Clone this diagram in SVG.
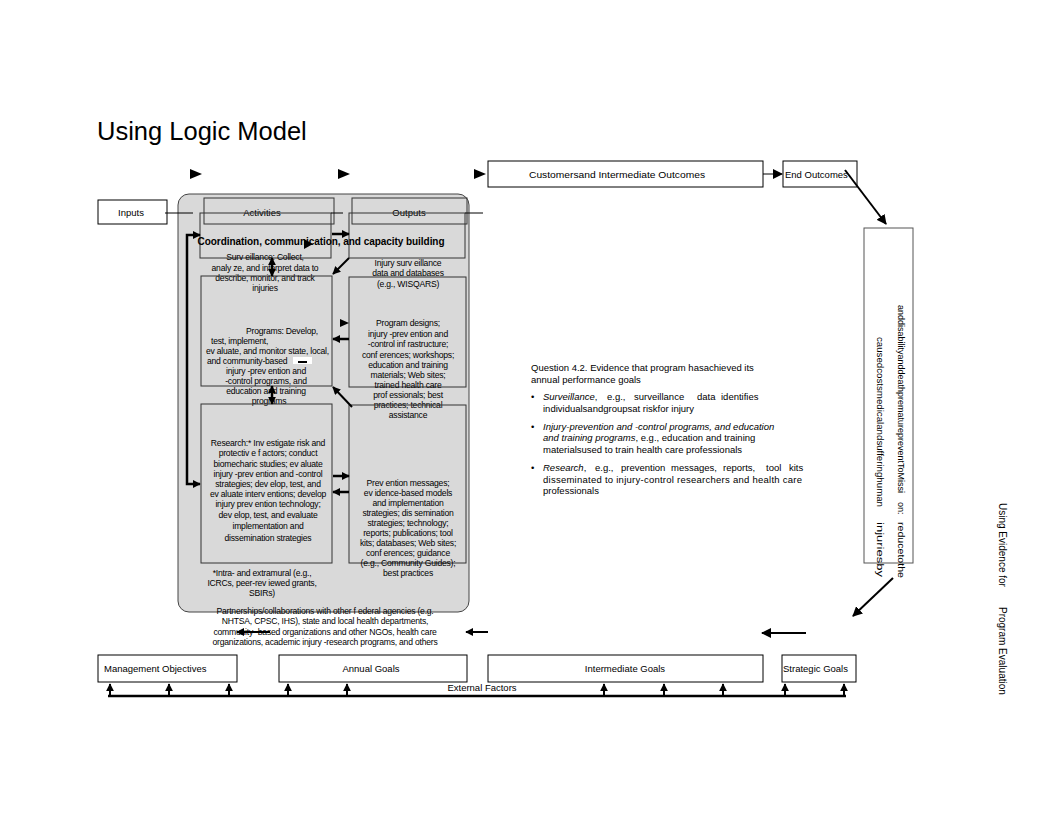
<svg xmlns="http://www.w3.org/2000/svg" width="1056" height="816" viewBox="0 0 1056 816">
<style>
text{font-family:"Liberation Sans",Arial,sans-serif;fill:#000}
.lb{font-size:9.5px}
.s{font-size:8.6px;letter-spacing:-0.22px}
.m{text-anchor:middle}
.q{font-size:9.5px}
.box{fill:#fff;stroke:#000;stroke-width:1}
.ibox{fill:none;stroke:#333;stroke-width:1}
.thin{stroke:#000;stroke-width:1;fill:none}
.thk{stroke:#000;stroke-width:2.5;fill:none}
.mid{stroke:#000;stroke-width:2;fill:none}
</style>
<defs>
<marker id="ah" viewBox="0 0 10 10" refX="9" refY="5" markerWidth="10" markerHeight="10" markerUnits="userSpaceOnUse" orient="auto-start-reverse"><path d="M0,0 L10,5 L0,10 z" fill="#000"/></marker>
<marker id="ahs" viewBox="0 0 10 10" refX="9" refY="5" markerWidth="8" markerHeight="8" markerUnits="userSpaceOnUse" orient="auto-start-reverse"><path d="M0,0 L10,5 L0,10 z" fill="#000"/></marker>
</defs>
<rect width="1056" height="816" fill="#fff"/>
<text x="97" y="140" style="font-size:25.5px">Using Logic Model</text>

<g id="program-area">
<rect x="178" y="194" width="291" height="418" rx="11" fill="#d9d9d9" stroke="#444" stroke-width="1"/>
</g>

<g id="inputs"><rect class="box" x="98" y="200" width="69" height="24"/><text class="lb m" x="131" y="216">Inputs</text></g>
<g id="activities"><rect class="ibox" x="204" y="198" width="130" height="26"/><text class="lb m" x="262" y="216">Activities</text></g>
<g id="outputs"><rect class="ibox" x="352" y="198" width="115" height="26"/><text class="lb m" x="409" y="216">Outputs</text></g>
<g id="coordination">
<rect class="ibox" x="200" y="213" width="131" height="45"/>
<rect class="ibox" x="349" y="213" width="116" height="45"/>
<text x="321" y="245" class="m" style="font-size:10px;font-weight:bold;letter-spacing:-0.05px">Coordination, communication, and capacity building</text>
</g>
<g id="surveillance">
<text class="s m" x="265" y="260">Surv eillance: Collect,</text>
<text class="s m" x="265" y="271">analy ze, and interpret data to</text>
<text class="s m" x="265" y="281">describe, monitor, and track</text>
<text class="s m" x="265" y="291">injuries</text>
</g>
<g id="surveillance-outputs">
<text class="s m" x="408" y="266">Injury surv eillance</text>
<text class="s m" x="408" y="276">data and databases</text>
<text class="s m" x="408" y="287">(e.g., WISQARS)</text>
</g>
<g id="programs">
<rect class="ibox" x="201" y="276" width="131" height="110"/>
<text class="s" x="246" y="334">Programs: Develop,</text>
<text class="s" x="211" y="344">test, implement,</text>
<text class="s" x="206" y="354">ev aluate, and monitor state, local,</text>
<text class="s" x="207" y="364">and community-based</text>
<rect x="293" y="357" width="19" height="7" fill="#fff"/>
<line x1="298" y1="362" x2="307" y2="362" stroke="#000" stroke-width="2"/>
<text class="s m" x="266" y="374">injury -prev ention and</text>
<text class="s m" x="266" y="384">-control programs, and</text>
<text class="s m" x="266" y="394">education and training</text>
<text class="s m" x="269" y="404">programs</text>
</g>
<g id="program-outputs">
<rect class="ibox" x="349" y="277" width="117" height="110"/>
<text class="s m" x="408" y="326">Program designs;</text>
<text class="s m" x="408" y="337">injury -prev ention and</text>
<text class="s m" x="408" y="347">-control inf rastructure;</text>
<text class="s m" x="408" y="358">conf erences; workshops;</text>
<text class="s m" x="408" y="368">education and training</text>
<text class="s m" x="408" y="378">materials; Web sites;</text>
<text class="s m" x="408" y="388">trained health care</text>
<text class="s m" x="408" y="398">prof essionals; best</text>
<text class="s m" x="408" y="408">practices; technical</text>
<text class="s m" x="408" y="418">assistance</text>
</g>
<g id="research">
<rect class="ibox" x="201" y="404" width="131" height="159"/>
<text class="s m" x="268" y="446">Research:* Inv estigate risk and</text>
<text class="s m" x="268" y="456">protectiv e f actors; conduct</text>
<text class="s m" x="268" y="467">biomecharic studies; ev aluate</text>
<text class="s m" x="268" y="477">injury -prev ention and -control</text>
<text class="s m" x="268" y="487">strategies; dev elop, test, and</text>
<text class="s m" x="268" y="497">ev aluate interv entions; develop</text>
<text class="s m" x="268" y="507">injury  prev ention technology;</text>
<text class="s m" x="268" y="518">dev elop, test, and evaluate</text>
<text class="s m" x="268" y="529">implementation and</text>
<text class="s m" x="268" y="541">dissemination strategies</text>
<text class="s m" x="262" y="576">*Intra- and extramural (e.g.,</text>
<text class="s m" x="262" y="586">ICRCs, peer-rev iewed grants,</text>
<text class="s m" x="262" y="596">SBIRs)</text>
</g>
<g id="research-outputs">
<rect class="ibox" x="349" y="405" width="117" height="158"/>
<text class="s m" x="408" y="486">Prev ention messages;</text>
<text class="s m" x="408" y="496">ev idence-based models</text>
<text class="s m" x="408" y="506">and implementation</text>
<text class="s m" x="408" y="516">strategies; dis semination</text>
<text class="s m" x="408" y="526">strategies; technology;</text>
<text class="s m" x="408" y="536">reports; publications; tool</text>
<text class="s m" x="408" y="546">kits; databases; Web sites;</text>
<text class="s m" x="408" y="556">conf erences; guidance</text>
<text class="s m" x="408" y="566">(e.g., Community Guides);</text>
<text class="s m" x="408" y="576">best practices</text>
</g>
<g id="partnerships">
<text class="s m" x="325" y="614">Partnerships/collaborations with other f ederal agencies (e.g.</text>
<text class="s m" x="325" y="624">NHTSA, CPSC, IHS), state and local health departments,</text>
<text class="s m" x="325" y="635">community -based organizations and other NGOs, health care</text>
<text class="s m" x="325" y="645">organizations, academic injury -research programs, and others</text>
</g>

<g id="customers"><rect class="box" x="488" y="161" width="275" height="26"/><text class="lb" x="529" y="178" textLength="176" lengthAdjust="spacingAndGlyphs">Customersand Intermediate Outcomes</text></g>
<g id="end-outcomes"><rect class="box" x="783" y="161" width="74" height="26"/><text class="lb" x="785" y="178">End Outcomes</text></g>
<g id="mission">
<rect x="864" y="228" width="49" height="335" fill="#fff" stroke="#555" stroke-width="1"/>
<text transform="translate(898,305) rotate(90)" style="font-size:9px" textLength="188" lengthAdjust="spacingAndGlyphs">anddisabilityanddeathprematurepreventToMissi</text>
<text transform="translate(898,502) rotate(90)" style="font-size:9px">on:</text>
<text transform="translate(898,522) rotate(90)" style="font-size:9px" textLength="56" lengthAdjust="spacingAndGlyphs">reducetothe</text>
<text transform="translate(877,337) rotate(90)" style="font-size:9px" textLength="170" lengthAdjust="spacingAndGlyphs">causedcostsmedicalandsufferinghuman</text>
<text transform="translate(877,522) rotate(90)" style="font-size:9px" textLength="55" lengthAdjust="spacingAndGlyphs">injuriesby</text>
</g>
<g id="side-title">
<text transform="translate(999,503) rotate(90)" style="font-size:10px">Using Evidence for</text>
<text transform="translate(999,607) rotate(90)" style="font-size:10px">Program Evaluation</text>
</g>
<g id="question">
<text class="q" x="531" y="371">Question 4.2. Evidence that program hasachieved its</text>
<text class="q" x="531" y="383">annual performance goals</text>
<text class="q" x="531" y="400">•</text>
<text class="q" y="400"><tspan x="543" font-style="italic">Surveillance</tspan><tspan>,</tspan><tspan x="607">e.g.,</tspan><tspan x="634">surveillance</tspan><tspan x="697">data</tspan><tspan x="721">identifies</tspan></text>
<text class="q" x="543" y="412">individualsandgroupsat riskfor injury</text>
<text class="q" x="531" y="430">•</text>
<text class="q" x="543" y="430" font-style="italic">Injury-prevention and -control programs, and education</text>
<text class="q" x="543" y="441"><tspan font-style="italic">and training programs</tspan>, e.g., education and training</text>
<text class="q" x="543" y="453">materialsused to train health care professionals</text>
<text class="q" x="531" y="471">•</text>
<text class="q" y="471"><tspan x="543" font-style="italic">Research</tspan><tspan>,</tspan><tspan x="595">e.g.,</tspan><tspan x="621">prevention</tspan><tspan x="671">messages,</tspan><tspan x="723">reports,</tspan><tspan x="766">tool</tspan><tspan x="789">kits</tspan></text>
<text class="q" x="543" y="483" textLength="259" lengthAdjust="spacing">disseminated to injury-control researchers and health care</text>
<text class="q" x="543" y="494">professionals</text>
</g>

<g id="management"><rect class="box" x="98" y="655" width="139" height="27"/><text class="lb" x="104" y="672">Management Objectives</text></g>
<g id="annual"><rect class="box" x="279" y="655" width="188" height="27"/><text class="lb m" x="371" y="672">Annual Goals</text></g>
<g id="intermediate"><rect class="box" x="488" y="655" width="275" height="27"/><text class="lb m" x="625" y="672">Intermediate Goals</text></g>
<g id="strategic"><rect class="box" x="782" y="655" width="74" height="27"/><text class="lb" x="783" y="672">Strategic Goals</text></g>
<text class="lb m" x="482" y="691">External Factors</text>

<g id="connectors">
<polygon points="190,169 202,174 190,179"/>
<polygon points="338,169 350,174 338,179"/>
<polygon points="474,169 486,174 474,179"/>
<line class="thin" x1="763" y1="174" x2="782" y2="174" marker-end="url(#ah)"/>
<line class="mid" x1="845" y1="170" x2="886" y2="224" marker-end="url(#ah)"/>
<line class="mid" x1="893" y1="578" x2="853" y2="616" marker-end="url(#ah)"/>
<line class="mid" x1="806" y1="633" x2="762" y2="633" marker-end="url(#ah)"/>
<line class="mid" x1="488" y1="632" x2="466" y2="632" marker-end="url(#ahs)"/>
<line class="mid" x1="270" y1="632" x2="237" y2="632" marker-end="url(#ahs)"/>
<line class="thin" x1="165" y1="213" x2="193" y2="213"/>
<line class="thin" x1="331" y1="213" x2="343" y2="213"/>
<line class="thin" x1="465" y1="213" x2="483" y2="213"/>
<line class="thk" x1="332" y1="234" x2="349" y2="234" marker-end="url(#ahs)"/>
<polygon points="304,239 313,244 304,249"/>
<line class="thk" x1="272" y1="258" x2="272" y2="276" marker-start="url(#ahs)" marker-end="url(#ahs)"/>
<line class="thk" x1="272" y1="386" x2="272" y2="404" marker-start="url(#ahs)" marker-end="url(#ahs)"/>
<line class="mid" x1="349" y1="258" x2="333" y2="274" marker-end="url(#ahs)"/>
<line class="mid" x1="352" y1="407" x2="333" y2="387" marker-end="url(#ahs)"/>
<polygon points="340,319 349,323 340,327"/>
<line class="thk" x1="349" y1="339" x2="333" y2="339" marker-end="url(#ahs)"/>
<line class="thk" x1="333" y1="476" x2="349" y2="476" marker-end="url(#ahs)"/>
<line class="thk" x1="349" y1="492" x2="333" y2="492" marker-end="url(#ahs)"/>
<path class="thk" d="M200,235 H187 V484 H200" marker-start="url(#ahs)" marker-end="url(#ahs)"/>
<path d="M108,696 H846" class="thk"/>
<g class="mid">
<line x1="110" y1="696" x2="110" y2="684" marker-end="url(#ahs)"/>
<line x1="169" y1="696" x2="169" y2="684" marker-end="url(#ahs)"/>
<line x1="229" y1="696" x2="229" y2="684" marker-end="url(#ahs)"/>
<line x1="288" y1="696" x2="288" y2="684" marker-end="url(#ahs)"/>
<line x1="347" y1="696" x2="347" y2="684" marker-end="url(#ahs)"/>
<line x1="604" y1="696" x2="604" y2="684" marker-end="url(#ahs)"/>
<line x1="664" y1="696" x2="664" y2="684" marker-end="url(#ahs)"/>
<line x1="723" y1="696" x2="723" y2="684" marker-end="url(#ahs)"/>
<line x1="785" y1="696" x2="785" y2="684" marker-end="url(#ahs)"/>
<line x1="844" y1="696" x2="844" y2="684" marker-end="url(#ahs)"/>
</g>
</g>
</svg>
